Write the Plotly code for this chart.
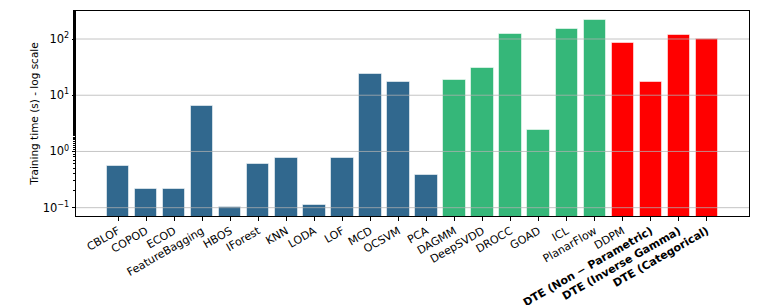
import plotly.graph_objects as go

classical = ["CBLOF", "COPOD", "ECOD", "FeatureBagging", "HBOS", "IForest", "KNN",
             "LODA", "LOF", "MCD", "OCSVM", "PCA"]
classical_times = [0.546, 0.215, 0.212, 6.4, 0.102, 0.593, 0.758, 0.110, 0.778, 23.4, 17.1, 0.382]

deep = ["DAGMM", "DeepSVDD", "DROCC", "GOAD", "ICL", "PlanarFlow"]
deep_times = [18.8, 30.0, 122.7, 2.45, 152.0, 214.0]

diffusion = ["DDPM", "DTE (Non \u2212 Parametric)", "DTE (Inverse Gamma)", "DTE (Categorical)"]
diffusion_times = [83.5, 17.1, 119.0, 98.5]
bold_labels = ["DTE (Non \u2212 Parametric)", "DTE (Inverse Gamma)", "DTE (Categorical)"]

y_tickvals = [0.1, 1, 10, 100]
y_ticktext = ["10<sup>\u22121</sup>", "10<sup>0</sup>", "10<sup>1</sup>", "10<sup>2</sup>"]

groups = [
    (classical, classical_times, "#31688e"),
    (deep, deep_times, "#35b779"),
    (diffusion, diffusion_times, "#ff0000"),
]

all_names = classical + deep + diffusion
FONT = "DejaVu Sans"

fig = go.Figure()
offset = 0
for names, vals, col in groups:
    xs = list(range(offset, offset + len(names)))
    fig.add_trace(go.Bar(
        x=xs, y=vals, width=0.8, marker=dict(color=col, line=dict(color="rgba(255,255,255,0.55)", width=1)),
        showlegend=False, hoverinfo="skip"))
    offset += len(names)

ticktext = [f"<b>{n}</b>" if n in bold_labels else n for n in all_names]

for v in y_tickvals:
    fig.add_shape(type="line", xref="paper", x0=0, x1=1, yref="y", y0=v, y1=v,
                  line=dict(color="rgba(176,176,176,0.75)", width=1), layer="above")

fig.update_layout(
    width=761, height=305,
    margin=dict(l=76, r=12, t=11, b=89, autoexpand=False),
    plot_bgcolor="white", paper_bgcolor="white",
    font=dict(family=FONT, size=11, color="black"),
    bargap=0,
    xaxis=dict(
        range=[-1.5, 22.5], tickmode="array", tickvals=list(range(len(all_names))),
        ticktext=ticktext, tickangle=-30, showline=True, linecolor="black", linewidth=1,
        mirror=True, ticks="outside", ticklen=3.5, tickcolor="black", showgrid=False,
        tickfont=dict(size=11, family=FONT), zeroline=False, automargin=False),
    yaxis=dict(
        type="log", range=[-1.148, 2.498], tickmode="array", tickvals=y_tickvals,
        ticktext=y_ticktext, showline=True, linecolor="black", linewidth=1, mirror=True,
        ticks="outside", ticklen=3.5, tickcolor="black", showgrid=False, automargin=False,
        tickfont=dict(size=11.5, family=FONT),
        minor=dict(ticks="outside", ticklen=2, tickcolor="black", showgrid=False),
        title=dict(text="Training time (s) - log scale", font=dict(size=10.5, family=FONT), standoff=2)),
)

fig.write_html("out.html", config={"displayModeBar": False},
               post_script="document.body.style.margin='0px';document.body.style.padding='0px';")
